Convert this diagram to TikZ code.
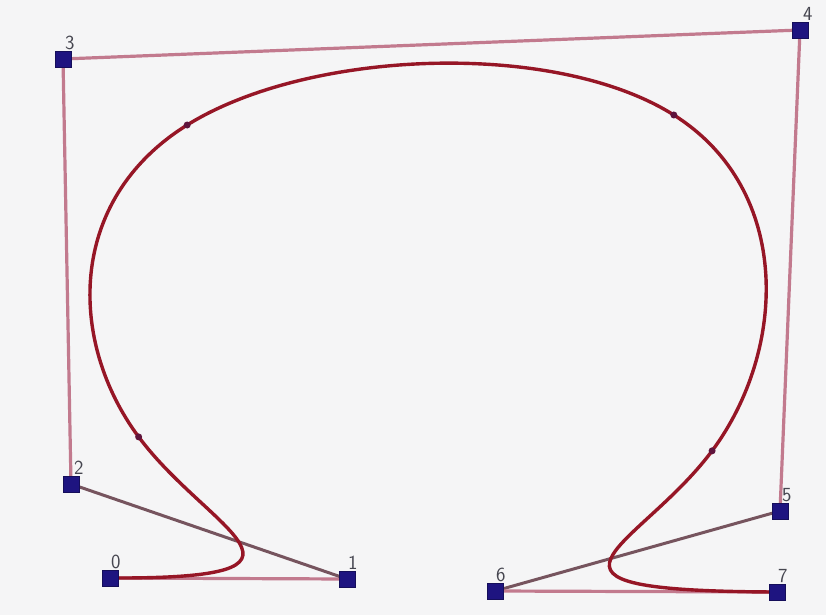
\documentclass[tikz,border=0pt]{standalone}
\usetikzlibrary{calc}
\pgfdeclarelayer{back}
\pgfdeclarelayer{lines}
\pgfsetlayers{back,lines,main}
\definecolor{bgc}{RGB}{245,245,246}
\definecolor{polyc}{RGB}{194,122,142}
\definecolor{polydark}{RGB}{118,84,94}
\definecolor{curvec}{RGB}{150,22,38}
\definecolor{boxc}{RGB}{30,20,128}
\definecolor{labc}{RGB}{70,70,80}
\definecolor{knotc}{RGB}{95,20,60}
\tikzset{
  ctrl/.style={draw=boxc!70!black, fill=boxc, minimum size=16pt, inner sep=0pt, line width=0.6pt},
  lab/.style={text=labc, font=\fontsize{20}{22}\selectfont\sffamily, inner sep=0pt, anchor=south west},
  poly/.style={draw=polyc, line width=3.2pt},
  polyd/.style={draw=polydark, line width=3pt},
  spline/.style={draw=curvec, line width=3.4pt},
  knot/.style={circle, fill=knotc, minimum size=7pt, inner sep=0pt}
}
\begin{document}
\begin{tikzpicture}[x=1pt, y=-1pt]
\useasboundingbox (0,0) rectangle (826,615);
\begin{pgfonlayer}{back}
\fill[bgc] (0,0) rectangle (826,615);
\end{pgfonlayer}
% control points
\node[ctrl] (p0) at (110,578) {};
\node[ctrl] (p1) at (347,579) {};
\node[ctrl] (p2) at (71,484) {};
\node[ctrl] (p3) at (63,59) {};
\node[ctrl] (p4) at (800,30) {};
\node[ctrl] (p5) at (780,511) {};
\node[ctrl] (p6) at (495,591) {};
\node[ctrl] (p7) at (777,592) {};
% labels
\node[lab] (l0) at ($(p0.north)+(1,-1)$) {0};
\node[lab] (l1) at ($(p1.north)+(1,-1)$) {1};
\node[lab] (l2) at ($(p2.north)+(3,-1)$) {2};
\node[lab] (l3) at ($(p3.north)+(2,-1)$) {3};
\node[lab] (l4) at ($(p4.north)+(3,-1)$) {4};
\node[lab] (l5) at ($(p5.north)+(2,-1)$) {5};
\node[lab] (l6) at ($(p6.north)+(1,-1)$) {6};
\node[lab] (l7) at ($(p7.north)+(1,-1)$) {7};
% Bezier points of the clamped cubic B-spline
\coordinate (b1) at ($(p1.center)!0.5!(p2.center)$);
\coordinate (q12) at ($(p2.center)!1/3!(p3.center)$);
\coordinate (k1) at ($(b1)!0.5!(q12)$);
\coordinate (q22) at ($(p2.center)!2/3!(p3.center)$);
\coordinate (q23) at ($(p3.center)!1/3!(p4.center)$);
\coordinate (k2) at ($(q22)!0.5!(q23)$);
\coordinate (q33) at ($(p3.center)!2/3!(p4.center)$);
\coordinate (q34) at ($(p4.center)!1/3!(p5.center)$);
\coordinate (k3) at ($(q33)!0.5!(q34)$);
\coordinate (q44) at ($(p4.center)!2/3!(p5.center)$);
\coordinate (q45) at ($(p5.center)!0.5!(p6.center)$);
\coordinate (k4) at ($(q44)!0.5!(q45)$);
\begin{pgfonlayer}{lines}
\draw[poly] (p0.center) -- (p1.center);
\draw[polyd] (p1.center) -- (p2.center);
\draw[poly] (p2.center) -- (p3.center) -- (p4.center) -- (p5.center);
\draw[polyd] (p5.center) -- (p6.center);
\draw[poly] (p6.center) -- (p7.center);
\draw[spline] (p0.center) .. controls (p1.center) and (b1) .. (k1)
  .. controls (q12) and (q22) .. (k2)
  .. controls (q23) and (q33) .. (k3)
  .. controls (q34) and (q44) .. (k4)
  .. controls (q45) and (p6.center) .. (p7.center);
\node[knot] (n1) at (k1) {};
\node[knot] (n2) at (k2) {};
\node[knot] (n3) at (k3) {};
\node[knot] (n4) at (k4) {};
\end{pgfonlayer}
\end{tikzpicture}
\end{document}
